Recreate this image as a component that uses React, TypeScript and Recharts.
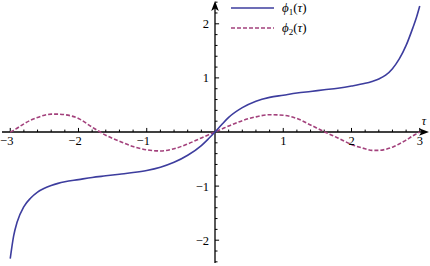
import { LineChart, Line, XAxis, YAxis, ReferenceLine, ReferenceDot } from "recharts";

const tau = [
  -3, -2.95, -2.9, -2.8, -2.7, -2.6, -2.5, -2.4, -2.3, -2.2, -2, -1.8, -1.6, -1.4, -1.2, -1, -0.8, -0.6, -0.4, -0.2, -0.1,
  0, 0.1, 0.2, 0.4, 0.6, 0.8, 1, 1.2, 1.4, 1.6, 1.8, 2, 2.2, 2.3, 2.4, 2.5, 2.6, 2.7, 2.8, 2.9, 2.95, 3,
];
const phi1 = [
  -2.34, -1.92, -1.67, -1.38, -1.22, -1.11, -1.04, -0.99, -0.95, -0.92, -0.88, -0.84, -0.81, -0.78, -0.75, -0.71, -0.65, -0.56, -0.43, -0.25, -0.13,
  0, 0.14, 0.27, 0.45, 0.57, 0.64, 0.68, 0.72, 0.75, 0.78, 0.81, 0.85, 0.9, 0.935, 0.98, 1.05, 1.17, 1.35, 1.6, 1.93, 2.11, 2.33,
];
const phi2 = [
  0, 0.03, 0.07, 0.15, 0.22, 0.27, 0.31, 0.33, 0.33, 0.32, 0.25, 0.09, -0.06, -0.17, -0.27, -0.33, -0.35, -0.31, -0.22, -0.11, -0.055,
  0, 0.055, 0.11, 0.21, 0.28, 0.32, 0.31, 0.25, 0.13, 0.005, -0.11, -0.23, -0.31, -0.34, -0.34, -0.32, -0.28, -0.22, -0.15, -0.07, -0.035, 0,
];

const xMajor = [-3, -2, -1, 1, 2, 3];
const xMinor = [
  -2.8, -2.6, -2.4, -2.2, -1.8, -1.6, -1.4, -1.2, -0.8, -0.6, -0.4, -0.2,
  0.2, 0.4, 0.6, 0.8, 1.2, 1.4, 1.6, 1.8, 2.2, 2.4, 2.6, 2.8,
];
const yMajor = [-2, -1, 1, 2];
const yMinor = [
  -2.4, -2.2, -1.8, -1.6, -1.4, -1.2, -0.8, -0.6, -0.4, -0.2,
  0.2, 0.4, 0.6, 0.8, 1.2, 1.4, 1.6, 1.8, 2.2, 2.4,
];

const data = tau.map((t, i) => ({ tau: t, phi1: phi1[i], phi2: phi2[i] }));

const BLUE = "#3d3d9e";
const PURPLE = "#a3417c";
const FONT = "'Liberation Serif', 'DejaVu Serif', serif";

const fmt = (v: number) => (v < 0 ? "\u2212" + Math.abs(v) : String(v));

const HAxis = (p: any) => {
  const { x1, y1, x2 } = p;
  const xs = Math.min(x1, x2) + 2;
  const xe = Math.max(x1, x2) - 1;
  return (
    <g>
      <line x1={xs} y1={y1} x2={xe - 5} y2={y1} stroke="#000" strokeWidth={1.3} />
      <path d={`M${xe},${y1} L${xe - 10},${y1 - 3.8} L${xe - 7.5},${y1} L${xe - 10},${y1 + 3.8} Z`} fill="#000" />
      <text x={xe - 5} y={y1 - 7} style={{ fontFamily: FONT }} fontSize={12} fontStyle="italic" textAnchor="middle">τ</text>
    </g>
  );
};

const VAxis = (p: any) => {
  const { x1, y1, y2 } = p;
  const ys = Math.min(y1, y2) + 1;
  const ye = Math.max(y1, y2) - 1;
  return (
    <g>
      <line x1={x1} y1={ys + 5} x2={x1} y2={ye} stroke="#000" strokeWidth={1.3} />
      <path d={`M${x1},${ys} L${x1 - 3.8},${ys + 10} L${x1},${ys + 7.5} L${x1 + 3.8},${ys + 10} Z`} fill="#000" />
    </g>
  );
};

const xLabel = (v: number) => (props: any) => {
  const vb = props.viewBox;
  const cx = vb.x + vb.width / 2;
  const cy = vb.y + vb.height / 2;
  return (
    <text x={cx - (v < 0 ? 3.5 : 0)} y={cy + 13} style={{ fontFamily: FONT }} fontSize={12.5} textAnchor="middle" fill="#000">
      {fmt(v)}
    </text>
  );
};

const yLabel = (v: number) => (props: any) => {
  const vb = props.viewBox;
  const cx = vb.x + vb.width / 2;
  const cy = vb.y + vb.height / 2;
  return (
    <text x={cx - 6} y={cy + 4.5} style={{ fontFamily: FONT }} fontSize={12.5} textAnchor="end" fill="#000">
      {fmt(v)}
    </text>
  );
};

function LegendItem({ color, dash, sub, top }: { color: string; dash?: string; sub: string; top: number }) {
  return (
    <>
      <svg style={{ position: "absolute", left: 231, top: top - 5 }} width={44} height={10}>
        <line x1={0} y1={5} x2={43} y2={5} stroke={color} strokeWidth={1.6} strokeDasharray={dash} />
      </svg>
      <span
        style={{
          position: "absolute", left: 282, top: top - 9, fontFamily: FONT, fontSize: 13,
          lineHeight: "18px", whiteSpace: "nowrap", color: "#000",
        }}
      >
        <i>ϕ</i>
        <span style={{ fontSize: 9, position: "relative", top: 3 }}>{sub}</span>(<i>τ</i>)
      </span>
    </>
  );
}

export default function App() {
  return (
    <div style={{ position: "absolute", left: 0, top: 0, width: 430, height: 266, background: "#fff" }}>
      <LineChart width={430} height={266} data={data} margin={{ top: 0, right: 0, bottom: 2, left: 0 }}>
        <XAxis type="number" dataKey="tau" domain={[-3.15, 3.15]} hide allowDataOverflow />
        <YAxis type="number" domain={[-2.44, 2.44]} hide allowDataOverflow />
        <ReferenceLine y={0} shape={HAxis} />
        <ReferenceLine x={0} shape={VAxis} />
        {xMajor.map((t) => (
          <ReferenceLine key={"xM" + t} segment={[{ x: t, y: 0 }, { x: t, y: 0.075 }]} stroke="#000" strokeWidth={1} />
        ))}
        {xMinor.map((t) => (
          <ReferenceLine key={"xm" + t} segment={[{ x: t, y: 0 }, { x: t, y: 0.045 }]} stroke="#000" strokeWidth={1} />
        ))}
        {yMajor.map((t) => (
          <ReferenceLine key={"yM" + t} segment={[{ x: 0, y: t }, { x: 0.06, y: t }]} stroke="#000" strokeWidth={1} />
        ))}
        {yMinor.map((t) => (
          <ReferenceLine key={"ym" + t} segment={[{ x: 0, y: t }, { x: 0.037, y: t }]} stroke="#000" strokeWidth={1} />
        ))}
        {xMajor.map((t) => (
          <ReferenceDot key={"xl" + t} x={t} y={0} r={1} fill="none" stroke="none" label={xLabel(t)} />
        ))}
        {yMajor.map((t) => (
          <ReferenceDot key={"yl" + t} x={0} y={t} r={1} fill="none" stroke="none" label={yLabel(t)} />
        ))}
        <Line type="monotone" dataKey="phi2" stroke={PURPLE} strokeWidth={1.6} strokeDasharray="4 2" dot={false} activeDot={false} isAnimationActive={false} />
        <Line type="monotone" dataKey="phi1" stroke={BLUE} strokeWidth={1.6} dot={false} activeDot={false} isAnimationActive={false} />
      </LineChart>
      <LegendItem color={BLUE} sub="1" top={8} />
      <LegendItem color={PURPLE} dash="4 2" sub="2" top={28} />
    </div>
  );
}
